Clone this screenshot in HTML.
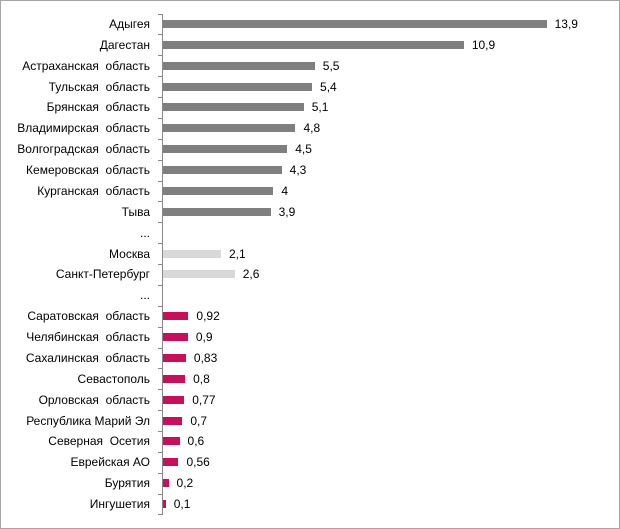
<!DOCTYPE html><html><head><meta charset="utf-8"><style>
body{margin:0;background:#fff}
.f{position:absolute;left:0;top:0;width:618px;height:527px;border:1px solid #a6a6a6}
.l{position:absolute;right:470px;font:12px "Liberation Sans",sans-serif;color:#000;white-space:nowrap;line-height:14px}
.v{position:absolute;font:12px "Liberation Sans",sans-serif;color:#000;line-height:14px}
.b{position:absolute;left:163px;height:8px}
.t{position:absolute;left:158px;width:4px;height:1px;background:#888}
</style></head><body><div class="f"></div>
<div style="position:absolute;left:162px;top:14px;width:1px;height:501px;background:#888"></div>
<div id="c"></div>
<script>
var d=[["Адыгея",13.9,0],["Дагестан",10.9,0],["Астраханская  область",5.5,0],["Тульская  область",5.4,0],["Брянская  область",5.1,0],["Владимирская  область",4.8,0],["Волгоградская  область",4.5,0],["Кемеровская  область",4.3,0],["Курганская  область",4,0],["Тыва",3.9,0],["...",null],["Москва",2.1,1],["Санкт-Петербург",2.6,1],["...",null],["Саратовская  область",0.92,2],["Челябинская  область",0.9,2],["Сахалинская  область",0.83,2],["Севастополь",0.8,2],["Орловская  область",0.77,2],["Республика Марий Эл",0.7,2],["Северная  Осетия",0.6,2],["Еврейская АО",0.56,2],["Бурятия",0.2,2],["Ингушетия",0.1,2]];
var col=["#7f7f7f","#d9d9d9","#c8105a"],h="";
for(var i=0;i<d.length;i++){var y=24+i*20.87;
h+='<div class="t" style="top:'+Math.round(y-10.4)+'px"></div>';
h+='<div class="l" style="top:'+(y-7)+'px">'+d[i][0].replace(/  /g,'&nbsp; ')+'</div>';
if(d[i][1]!=null){var w=d[i][1]*27.6;
h+='<div class="b" style="top:'+(y-4)+'px;width:'+w+'px;background:'+col[d[i][2]]+'"></div>';
h+='<div class="v" style="top:'+(y-7)+'px;left:'+(163+w+8)+'px">'+String(d[i][1]).replace('.',',')+'</div>';}}
h+='<div class="t" style="top:'+Math.round(24+24*20.87-10.4)+'px"></div>';
document.getElementById('c').innerHTML=h;
</script></body></html>
